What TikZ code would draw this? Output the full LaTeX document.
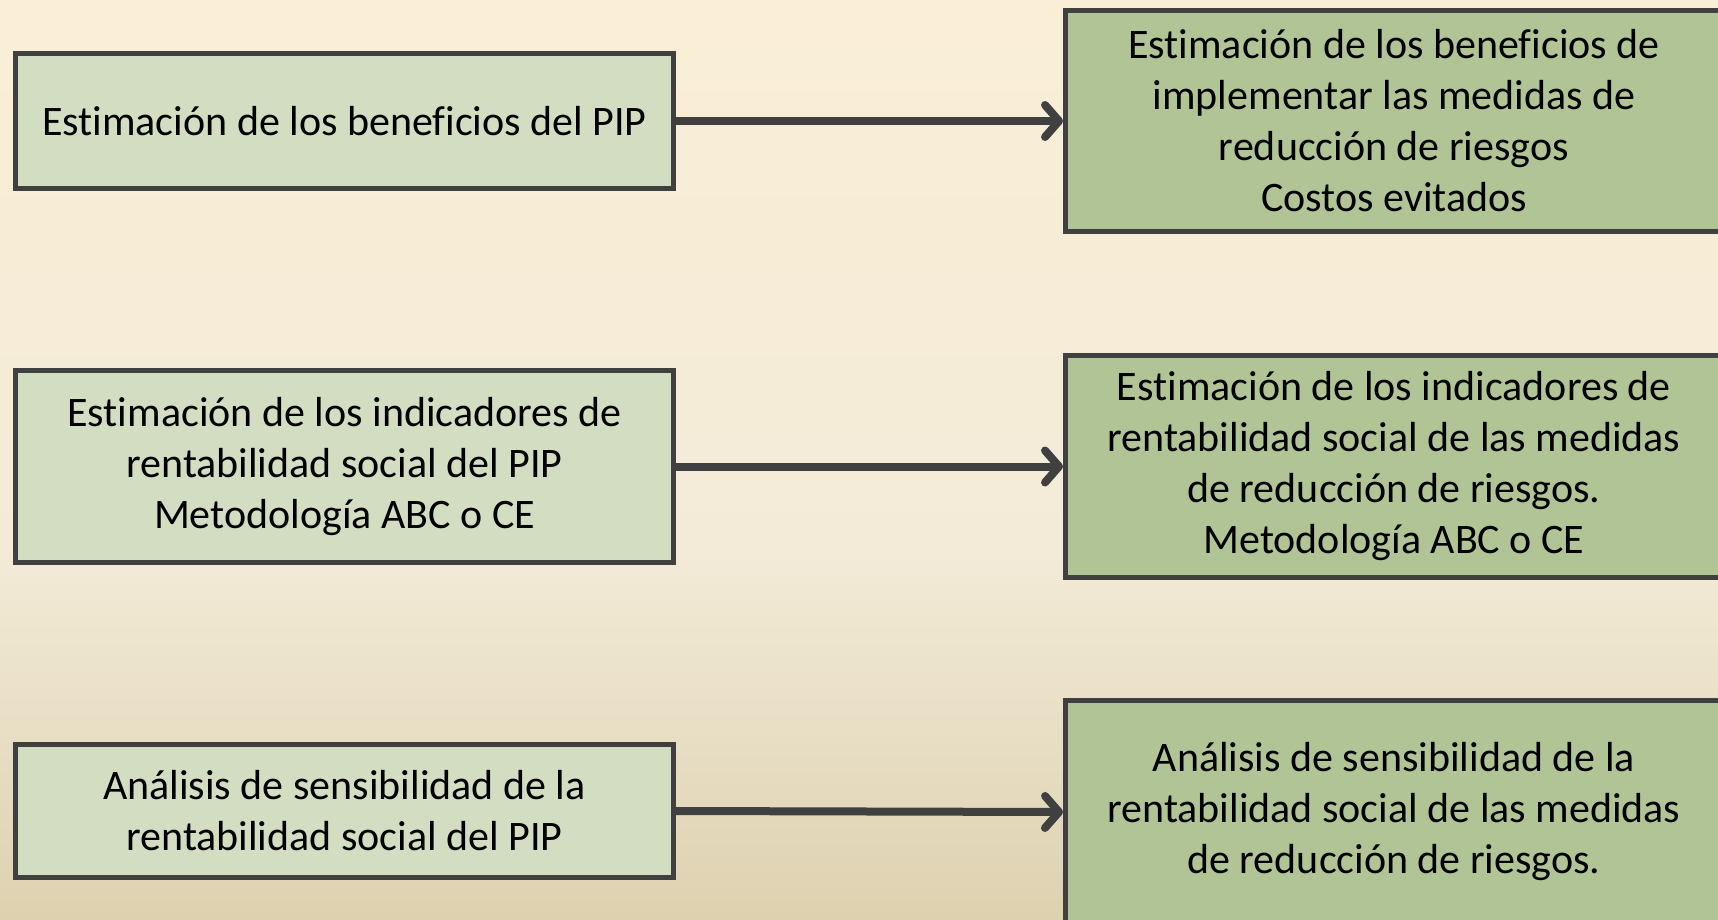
\documentclass[tikz,border=0pt]{standalone}
\usepackage{fontspec}
\setmainfont[Ligatures={NoCommon,NoContextual,NoRare},RawFeature=-liga]{Carlito}
\usetikzlibrary{arrows.meta}
\definecolor{bgtop}{RGB}{250,238,214}
\definecolor{bgmid}{RGB}{243,235,216}
\definecolor{bgbot}{RGB}{221,209,176}
\definecolor{lfill}{RGB}{211,221,194}
\definecolor{rfill}{RGB}{176,196,150}
\definecolor{edge}{RGB}{64,64,64}
\tikzset{
  boxbase/.style={draw=edge, line width=5pt, inner sep=0pt, align=center,
    font=\fontsize{42}{51}\selectfont, text=black},
  leftbox/.style={boxbase, fill=lfill, minimum width=658pt},
  rightbox/.style={boxbase, fill=rfill, minimum width=657pt},
  conn/.style={draw=edge, line width=8pt,
    -{Straight Barb[length=14pt,width=32pt,round]}}
}
\begin{document}
\begin{tikzpicture}[x=1pt,y=-1pt]
\useasboundingbox (0,0) rectangle (1718,920);
\clip (0,0) rectangle (1718,920);
\shade[top color=bgtop, bottom color=bgmid] (0,-1) rectangle (1718,552);
\shade[top color=bgmid, bottom color=bgbot] (0,550) rectangle (1718,921);

\node[leftbox, minimum height=135pt] (l1) at (344.5,121) {Estimación de los beneficios del PIP};
\node[leftbox, minimum height=192pt] (l2) at (344.5,466.5) {Estimación de los indicadores de\\rentabilidad social del PIP\\Metodología ABC o CE};
\node[leftbox, minimum height=133pt] (l3) at (344.5,811) {Análisis de sensibilidad de la\\rentabilidad social del PIP};

\node[rightbox, minimum height=221pt] (r1) at (1394,121) {Estimación de los beneficios de\\implementar las medidas de\\reducción de riesgos\\Costos evitados};
\node[rightbox, minimum height=222pt] (r2) at (1394,466.5) {Estimación de los indicadores de\\rentabilidad social de las medidas\\de reducción de riesgos.\\Metodología ABC o CE};
\node[rightbox, minimum height=223pt] (r3) at (1394,812) {Análisis de sensibilidad de la\\rentabilidad social de las medidas\\de reducción de riesgos.};

\draw[conn] (l1.east) -- (r1.west);
\draw[conn] (l2.east) -- (r2.west);
\draw[conn] (l3.east) -- (r3.west);
\end{tikzpicture}
\end{document}
